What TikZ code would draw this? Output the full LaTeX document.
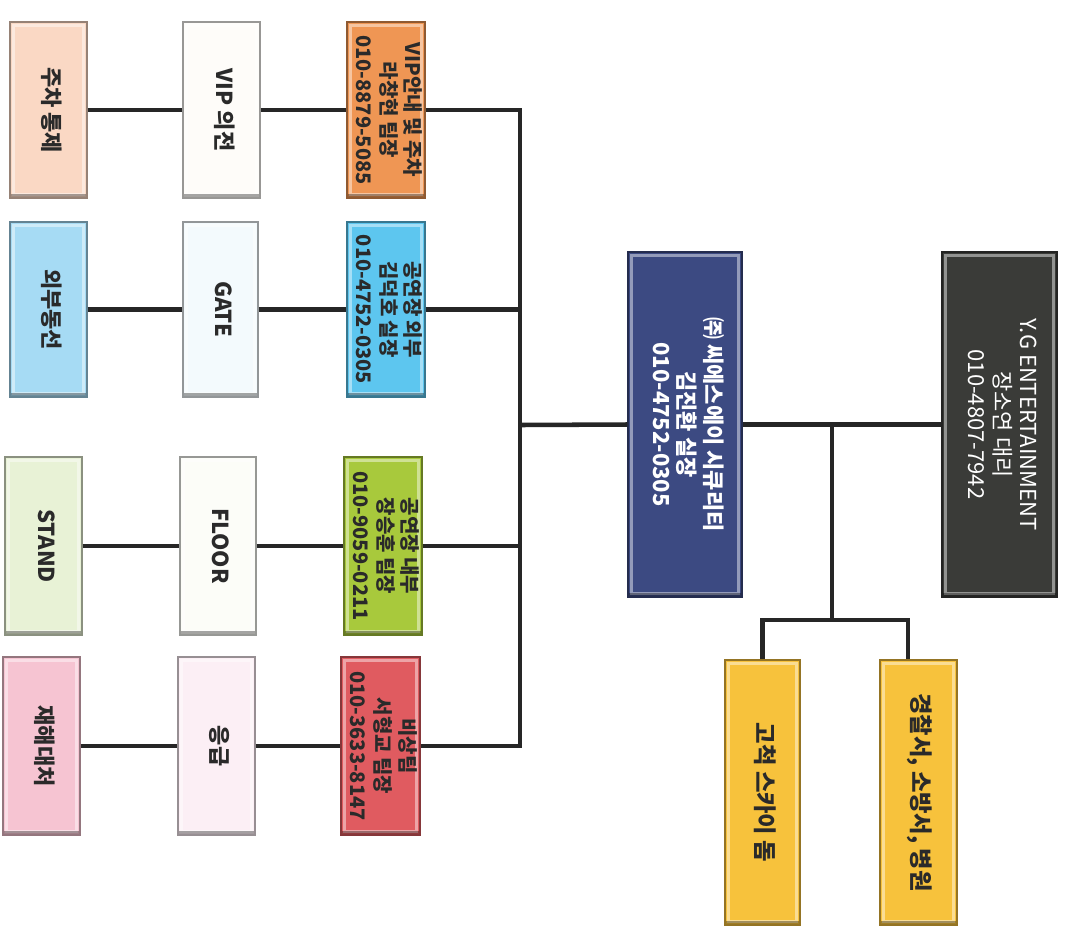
\documentclass[tikz,border=0pt]{standalone}
\usepackage{fontspec}
\newfontfamily\kr{Noto Sans CJK KR}
\usetikzlibrary{fit}
\definecolor{linec}{HTML}{262626}
\definecolor{txtc}{HTML}{2A2A2A}
\definecolor{cpeach}{HTML}{FAD8C4}
\definecolor{clblue}{HTML}{A6DBF4}
\definecolor{clgreen}{HTML}{E8F2D6}
\definecolor{cpink}{HTML}{F6C4D2}
\definecolor{cw1}{HTML}{FEFCF9}
\definecolor{cw2}{HTML}{F3FAFD}
\definecolor{cw3}{HTML}{FCFDF8}
\definecolor{cw4}{HTML}{FCEFF5}
\definecolor{corange}{HTML}{EF9654}
\definecolor{cblue}{HTML}{5DC6EF}
\definecolor{cgreen}{HTML}{A8C93C}
\definecolor{cred}{HTML}{E05B60}
\definecolor{cnavy}{HTML}{3C4A82}
\definecolor{cblack}{HTML}{3A3B38}
\definecolor{cyellow}{HTML}{F7C23C}
\newcommand{\vtxt}[1]{\rotatebox{-90}{\begin{tabular}{@{}c@{}}#1\end{tabular}}}
\begin{document}
\begin{tikzpicture}[x=0.75pt,y=-0.75pt,
  box/.style={fill=#1, draw=#1!60!black, line width=0.8pt, inner sep=0pt,
    text=txtc, font=\kr\bfseries\fontsize{15}{18.5}\selectfont,
    path picture={
      \draw[white,opacity=.45,line width=2.5pt]
        ([shift={(2.5pt,-2.5pt)}]path picture bounding box.north west) rectangle
        ([shift={(-2.5pt,2.5pt)}]path picture bounding box.south east);
      \fill[black,opacity=.35] (path picture bounding box.south west) rectangle
        ([yshift=3pt]path picture bounding box.south east);
    }},
  big/.style={font=\kr\bfseries\fontsize{16.5}{19}\selectfont},
  conn/.style={draw=linec, line width=3.4pt}]
\useasboundingbox (0,0) rectangle (1065,933);

% column 1
\node[box=cpeach, big, fit={(10,22) (87,198)}] (a1) {\vtxt{주차 통제}};
\node[box=clblue, big, fit={(10,222) (87,397)}] (a2) {\vtxt{외부동선}};
\node[box=clgreen, big, fit={(5,457) (82,635)}] (a3) {\vtxt{STAND}};
\node[box=cpink, big, fit={(3,657) (80,835)}] (a4) {\vtxt{재해대처}};
% column 2
\node[box=cw1, big, fit={(183,22) (260,198)}] (b1) {\vtxt{VIP 의전}};
\node[box=cw2, big, fit={(183,222) (258,397)}] (b2) {\vtxt{GATE}};
\node[box=cw3, big, fit={(180,457) (256,635)}] (b3) {\vtxt{FLOOR}};
\node[box=cw4, big, fit={(178,657) (255,835)}] (b4) {\vtxt{응급}};
% column 3
\node[box=corange, fit={(347,22) (425,198)}] (c1) {\vtxt{VIP안내 및 주차\\라창현 팀장\\010-8879-5085}};
\node[box=cblue, fit={(347,222) (425,397)}] (c2) {\vtxt{공연장 외부\\김덕호 실장\\010-4752-0305}};
\node[box=cgreen, fit={(344,457) (422,635)}] (c3) {\vtxt{공연장 내부\\장승훈 팀장\\010-9059-0211}};
\node[box=cred, fit={(341,657) (420,835)}] (c4) {\vtxt{비상팀\\서형교 팀장\\010-3633-8147}};
% center
\node[box=cnavy, text=white, font=\kr\bfseries\fontsize{16.5}{19}\selectfont, fit={(628,252) (742,597)}] (sec) {\vtxt{㈜ 씨에스에이 시큐리티\\김진환 실장\\010-4752-0305}};
\node[box=cblack, text=white, font=\kr\fontsize{16.5}{19}\selectfont, fit={(942,252) (1057,597)}] (yg) {\vtxt{Y.G ENTERTAINMENT\\장소연 대리\\010-4807-7942}};
% yellow
\node[box=cyellow, font=\kr\bfseries\fontsize{17.5}{20}\selectfont, fit={(725,660) (800,925)}] (y1) {\vtxt{고척 스카이 돔}};
\node[box=cyellow, font=\kr\bfseries\fontsize{17.5}{20}\selectfont, fit={(880,660) (957,925)}] (y2) {\vtxt{경찰서, 소방서, 병원}};

% connectors
\coordinate (bus) at (520,425);
\coordinate (j) at (832,425);
\coordinate (split) at (832,620);
\coordinate (k2) at (908,620);
\draw[conn] (a1) -- (b1);
\draw[conn] (a2) -- (b2);
\draw[conn] (a3) -- (b3);
\draw[conn] (a4) -- (b4);
\draw[conn] (b1) -- (c1);
\draw[conn] (b2) -- (c2);
\draw[conn] (b3) -- (c3);
\draw[conn] (b4) -- (c4);
\draw[conn] (c1.east) -| (bus);
\draw[conn] (c2.east) -| (bus);
\draw[conn] (c3.east) -| (bus);
\draw[conn] (c4.east) -| (bus);
\draw[conn] (bus) -- (sec.west);
\draw[conn] (sec.east) -- (yg.west);
\draw[conn] (j) -- (split);
\draw[conn] (split) -| (y1.north);
\draw[conn] (split) -- (k2) -- (k2 |- y2.north);
\end{tikzpicture}
\end{document}
